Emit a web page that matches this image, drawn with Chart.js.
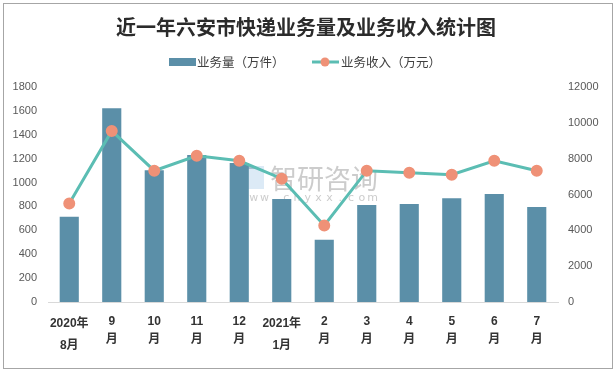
<!DOCTYPE html>
<html>
<head>
<meta charset="utf-8">
<script src="https://cdn.jsdelivr.net/npm/chart.js@4/dist/chart.umd.min.js"></script>
<style>
  body { margin: 0; background: #fff; }
  #wrap { width: 616px; height: 372px; position: relative; }
</style>
</head>
<body>
<div id="wrap"><canvas id="expressChart" width="616" height="372"></canvas></div>
<script>
// 近一年六安市快递业务量及业务收入
const months = [
    ['2020年', '8月'], ['9', '月'], ['10', '月'], ['11', '月'], ['12', '月'], ['2021年', '1月'],
    ['2', '月'], ['3', '月'], ['4', '月'], ['5', '月'], ['6', '月'], ['7', '月']
];
const volume = [713, 1622, 1103, 1230, 1163, 863, 521, 812, 821, 868, 905, 796];   // 万件
const revenue = [5500, 9550, 7330, 8160, 7880, 6880, 4270, 7330, 7220, 7100, 7880, 7330]; // 万元
const leftTicks = [0, 200, 400, 600, 800, 1000, 1200, 1400, 1600, 1800];
const rightTicks = [0, 2000, 4000, 6000, 8000, 10000, 12000];

const barColor = '#5b8fa8';
const lineColor = '#5bbdb3';
const pointColor = '#ef9177';
const labelFont = "'Liberation Sans', 'Noto Sans CJK SC', sans-serif";
const cjkFont = "'Noto Sans CJK SC', sans-serif";

// legend, watermark and frame drawn by hand
const extras = {
    id: 'extras',
    beforeDatasetsDraw(chart) {
        const ctx = chart.ctx;
        ctx.save();
        ctx.globalAlpha = 0.5;
        // logo
        ctx.fillStyle = '#b9d6ee';
        ctx.fillRect(244, 166, 20, 23);
        ctx.fillStyle = '#6f8fae';
        ctx.fillRect(240, 166, 4, 23);
        ctx.fillRect(244, 166, 12, 3);
        // brand text
        ctx.fillStyle = '#9a9a9a';
        ctx.font = '27px ' + cjkFont;
        ctx.textBaseline = 'middle';
        ctx.fillText('智研咨询', 270, 179);
        ctx.font = "11px 'DejaVu Sans', sans-serif";
        ctx.textAlign = 'center';
        'www.chyxx.com'.split('').forEach((ch, i) => ctx.fillText(ch, 243 + i * 10.8, 198));
        ctx.restore();
    },
    afterDraw(chart) {
        const ctx = chart.ctx;
        ctx.save();
        // legend
        ctx.font = '12.5px ' + cjkFont;
        ctx.textBaseline = 'middle';
        ctx.fillStyle = barColor;
        ctx.fillRect(169, 58, 27, 8);
        ctx.fillStyle = '#404040';
        ctx.fillText(chart.data.datasets[1].label, 197, 62);
        ctx.strokeStyle = lineColor;
        ctx.lineWidth = 3;
        ctx.beginPath(); ctx.moveTo(312, 62); ctx.lineTo(339, 62); ctx.stroke();
        ctx.fillStyle = pointColor;
        ctx.beginPath(); ctx.arc(325, 62, 4.5, 0, Math.PI * 2); ctx.fill();
        ctx.fillStyle = '#404040';
        ctx.fillText(chart.data.datasets[0].label, 341, 62);
        // frame
        ctx.strokeStyle = '#a6a6a6';
        ctx.lineWidth = 1;
        ctx.strokeRect(3.5, 3.5, 609, 365);
        ctx.restore();
    }
};

new Chart(document.getElementById('expressChart'), {
    data: {
        labels: months,
        datasets: [
            {
                type: 'line',
                label: '业务收入（万元）',
                data: revenue,
                yAxisID: 'y1',
                borderColor: lineColor,
                borderWidth: 3,
                pointRadius: 4.5,
                pointBackgroundColor: pointColor,
                pointBorderColor: pointColor,
                tension: 0,
                order: 0
            },
            {
                type: 'bar',
                label: '业务量（万件）',
                data: volume,
                yAxisID: 'y',
                backgroundColor: barColor,
                barPercentage: 0.45,
                categoryPercentage: 1,
                order: 1
            }
        ]
    },
    options: {
        responsive: false,
        animation: false,
        layout: { padding: { left: 4, right: 8, top: 3, bottom: 12 } },
        plugins: {
            title: {
                display: true,
                text: '近一年六安市快递业务量及业务收入统计图',
                color: '#2b2b2b',
                font: { size: 20, weight: 'bold', family: cjkFont, lineHeight: 1.2 },
                padding: { top: 12, bottom: 48 }
            },
            legend: { display: false },
            tooltip: { enabled: false }
        },
        scales: {
            x: {
                grid: { display: false },
                border: { color: '#d9d9d9' },
                ticks: {
                    color: '#333333',
                    padding: 3,
                    maxRotation: 0,
                    autoSkip: false,
                    font: ctx => ({
                        size: 12,
                        weight: 'bold',
                        family: labelFont,
                        lineHeight: (ctx.index === 0 || ctx.index === 5) ? '22px' : '18px'
                    })
                },
                afterFit(scale) { scale.height = 58; }
            },
            y: {
                position: 'left',
                min: 0,
                max: 1800,
                grid: { display: false },
                border: { display: false },
                afterBuildTicks(scale) { scale.ticks = leftTicks.map(v => ({ value: v })); },
                ticks: { color: '#595959', callback: v => String(v), font: { size: 11, family: labelFont } },
                afterFit(scale) { scale.width = 44; }
            },
            y1: {
                position: 'right',
                min: 0,
                max: 12000,
                grid: { display: false },
                border: { display: false },
                afterBuildTicks(scale) { scale.ticks = rightTicks.map(v => ({ value: v })); },
                ticks: { color: '#595959', padding: 2, callback: v => String(v), font: { size: 11, family: labelFont } },
                afterFit(scale) { scale.width = 50; }
            }
        }
    },
    plugins: [extras]
});
</script>
</body>
</html>
